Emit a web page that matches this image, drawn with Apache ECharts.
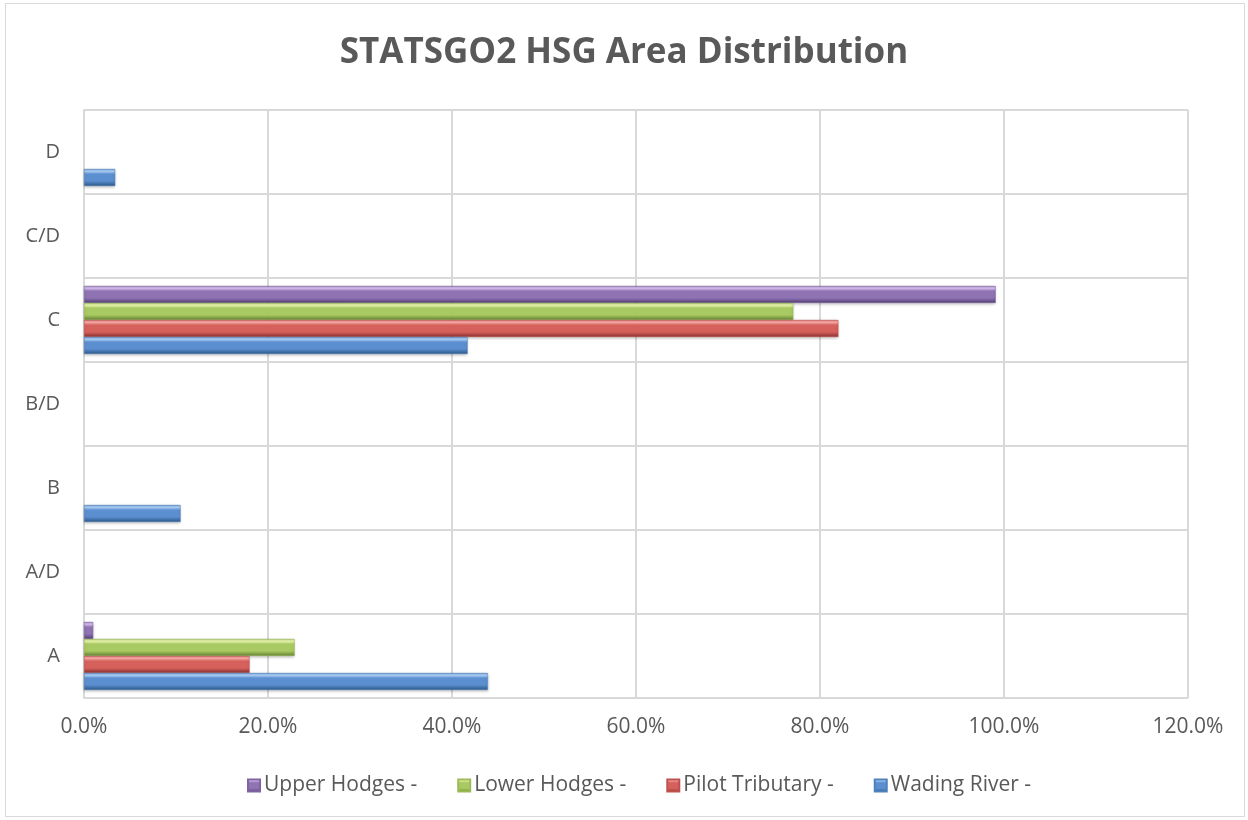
<!DOCTYPE html>
<html><head><meta charset="utf-8">
<script src="https://cdn.jsdelivr.net/npm/echarts@6/dist/echarts.min.js"></script>
<style>
html,body{margin:0;padding:0;background:#fff;}
#frame{position:absolute;left:5px;top:3px;width:1240px;height:814px;border:1px solid #d9d9d9;box-sizing:border-box;}
#c{position:absolute;left:0;top:0;width:1248px;height:820px;}
</style></head>
<body><div id="frame"></div><div id="c"></div>
<script>
const categories = ['A','A/D','B','B/D','C','C/D','D'];
const wadingRiver = [43.9, 0, 10.5, 0, 41.7, 0, 3.4];
const pilotTributary = [18.0, 0, 0, 0, 82.0, 0, 0];
const lowerHodges = [22.9, 0, 0, 0, 77.1, 0, 0];
const upperHodges = [1.0, 0, 0, 0, 99.1, 0, 0];
const seriesNames = ['Wading River -','Pilot Tributary -','Lower Hodges -','Upper Hodges -'];
const legendOrder = ['Upper Hodges -','Lower Hodges -','Pilot Tributary -','Wading River -'];

const font = '"Open Sans", "Liberation Sans", sans-serif';
function grad(light, mid, dark){
  return new echarts.graphic.LinearGradient(0,0,0,1,[
    {offset:0, color:mid},{offset:0.12,color:light},{offset:0.3,color:mid},{offset:0.7,color:mid},{offset:1,color:dark}
  ]);
}
const styles = [
  {c:'#4F81BD', g:grad('#b3d6fb','#5b8fd0','#2c5688')},
  {c:'#C0504D', g:grad('#fbb3b0','#d6605c','#8a3230')},
  {c:'#9BBB59', g:grad('#eefab2','#a9c962','#64832f')},
  {c:'#8064A2', g:grad('#dcc6f6','#8f73b3','#543f75')}
];
const dataSets = [wadingRiver, pilotTributary, lowerHodges, upperHodges];

const chart = echarts.init(document.getElementById('c'));
// ECharts lays grouped horizontal bars top-down, so feed series in reverse
const order = [3,2,1,0];
chart.setOption({
  animation:false,
  title:{text:'STATSGO2 HSG Area Distribution', left:'center', top:31,
    textStyle:{fontFamily:font, fontSize:35, fontWeight:'bold', color:'#595959'}},
  legend:{data:legendOrder, top:770, left:242, itemWidth:12, itemHeight:12, itemGap:40,
    icon:'rect', textStyle:{fontFamily:font, fontSize:21, color:'#595959', padding:[0,0,0,-1]}},
  grid:{left:84, right:60, top:110, bottom:122},
  xAxis:{type:'value', min:0, max:120, interval:20,
    axisLabel:{formatter:v=>v.toFixed(1)+'%', fontFamily:font, fontSize:21, color:'#595959', margin:19},
    axisLine:{show:false}, axisTick:{show:false},
    splitLine:{lineStyle:{color:'#d9d9d9', width:2}}},
  yAxis:{type:'category', data:categories,
    axisLabel:{fontFamily:font, fontSize:20, color:'#595959', margin:24},
    axisTick:{show:false}, axisLine:{lineStyle:{color:'#d9d9d9', width:2}},
    splitLine:{show:true, lineStyle:{color:'#d9d9d9', width:2}}},
  series: order.map(i=>({
    name:seriesNames[i], type:'bar', data:dataSets[i].map(v=>v===0?null:v), barGap:'0%', barCategoryGap:'19%',
    itemStyle:{color:styles[i].g, borderColor:styles[i].c, borderWidth:0.5,
      shadowColor:'rgba(0,0,0,0.25)', shadowBlur:3, shadowOffsetY:1},
  }))
});
</script></body></html>
